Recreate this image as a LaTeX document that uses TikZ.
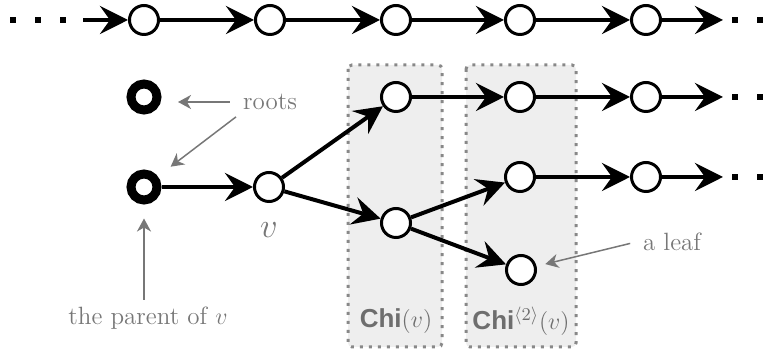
\documentclass[tikz,border=0pt]{standalone}
\usepackage{fontspec}
\newfontfamily\hvb{Liberation Sans}
\usetikzlibrary{arrows.meta}
\definecolor{txtgray}{HTML}{777777}
\definecolor{chigray}{HTML}{6E6E6E}
\definecolor{boxfill}{HTML}{EEEEEE}
\definecolor{boxline}{HTML}{888888}
\begin{document}
\begin{tikzpicture}[x=0.5pt,y=-0.5pt,
 vnode/.style={circle,draw=black,fill=white,line width=1.5pt,minimum size=14.5pt,inner sep=0pt},
 rootnode/.style={circle,draw=black,fill=white,line width=4.5pt,minimum size=13pt,inner sep=0pt},
 edge/.style={line width=2pt,-{Stealth[length=14pt,width=14pt,inset=5pt]}},
 dots/.style={line width=3pt,dash pattern=on 3pt off 9.5pt},
 note/.style={line width=0.75pt,draw=txtgray,-{Stealth[length=6.5pt,width=7pt,inset=2pt]}},
 lbl/.style={text=txtgray,font=\fontsize{12.5}{15}\selectfont},
 chilbl/.style={text=chigray,font=\fontsize{13}{15}\selectfont},
 chibox/.style={fill=boxfill,draw=boxline,line width=1.5pt,dash pattern=on 1.5pt off 3pt,rounded corners=2pt}]
\useasboundingbox (0,0) rectangle (782,351);
% boxes
\path[chibox] (348,65) rectangle (442,347);
\path[chibox] (466,65) rectangle (576,347);
% top row
\node[vnode] (t1) at (144,20) {};
\node[vnode] (t2) at (270,20) {};
\node[vnode] (t3) at (396,20) {};
\node[vnode] (t4) at (520,20) {};
\node[vnode] (t5) at (646,20) {};
\coordinate (tl) at (83,20);
\coordinate (tr) at (723,20);
\draw[dots] (10,20) -- (70,20);
\draw[dots] (732,20) -- (790,20);
\draw[edge] (tl) -- (t1);
\draw[edge] (t1) -- (t2);
\draw[edge] (t2) -- (t3);
\draw[edge] (t3) -- (t4);
\draw[edge] (t4) -- (t5);
\draw[edge] (t5) -- (tr);
% tree
\node[rootnode] (r1) at (144,97) {};
\node[rootnode] (r2) at (144,187) {};
\node[vnode] (v) at (269,187) {};
\node[vnode] (a) at (396,97) {};
\node[vnode] (b) at (396,223) {};
\node[vnode] (c) at (520,97) {};
\node[vnode] (d) at (520,177) {};
\node[vnode] (leaf) at (521,270) {};
\node[vnode] (e) at (646,97) {};
\node[vnode] (f) at (646,177) {};
\coordinate (er) at (723,97);
\coordinate (fr) at (723,177);
\draw[dots] (732,97) -- (790,97);
\draw[dots] (732,177) -- (790,177);
\draw[edge] (r2) -- (v);
\draw[edge] (v) -- (a);
\draw[edge] (v) -- (b);
\draw[edge] (a) -- (c);
\draw[edge] (c) -- (e);
\draw[edge] (e) -- (er);
\draw[edge] (b) -- (d);
\draw[edge] (b) -- (leaf);
\draw[edge] (d) -- (f);
\draw[edge] (f) -- (fr);
% labels
\node[lbl] (roots) at (270,102) {roots};
\node[lbl,font=\fontsize{18}{20}\selectfont] (vlab) at (269,230) {$v$};
\node[lbl] (par) at (148,318) {the parent of {\large$v$}};
\node[lbl] (aleaf) at (672,242) {a leaf};
\node[chilbl] (chi1) at (396,321) {{\hvb\bfseries Chi}$(v)$};
\node[chilbl] (chi2) at (521,321) {{\hvb\bfseries Chi}$^{\langle 2\rangle}(v)$};
\draw[note,shorten <=3pt,shorten >=17pt] (roots.west) -- (roots.west -| r1);
\draw[note,shorten >=8pt] (roots.south west) -- (r2);
\draw[note,shorten >=7pt] (par.north -| r2) -- (r2);
\draw[note,shorten <=3pt,shorten >=4.5pt] (aleaf.west) -- (leaf);
\end{tikzpicture}
\end{document}
